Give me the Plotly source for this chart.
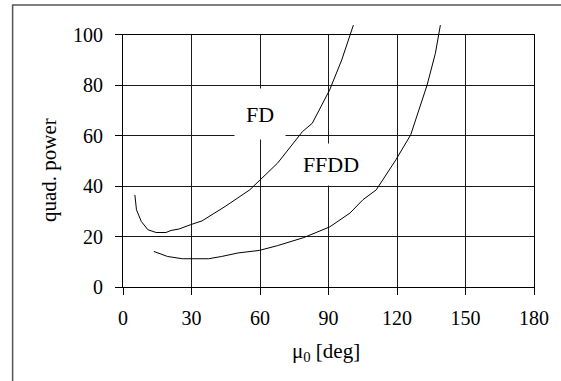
import plotly.graph_objects as go

# Data
fd_x = [5.2, 5.9, 8.0, 10.9, 14.5, 18.8, 21.0, 24.6, 29.6, 34.6, 44.7, 55.5, 67.7, 78.6, 82.9, 90.5, 95.8, 100.9]
fd_y = [36.5, 30.6, 26.0, 22.7, 21.6, 21.6, 22.4, 23.0, 24.7, 26.2, 31.9, 38.5, 49.1, 61.6, 64.9, 78.1, 90.0, 103.8]
ffdd_x = [13.5, 19.5, 26.0, 37.5, 43.2, 50.4, 59.7, 67.7, 79.2, 90.5, 99.4, 105.1, 110.9, 119.5, 126.0, 133.2, 136.8, 139.0]
ffdd_y = [14.1, 12.1, 11.2, 11.2, 12.1, 13.5, 14.5, 16.4, 19.6, 23.8, 29.3, 34.6, 38.5, 50.4, 60.3, 80.1, 92.6, 103.8]
x_ticks = [0, 30, 60, 90, 120, 150, 180]
y_ticks = [0, 20, 40, 60, 80, 100]

FONT = "Liberation Serif"
W, H = 561, 381
ML, MR, MT, MB = 123, 21, 25, 94
PW, PH = W - ML - MR, H - MT - MB
Y0PX = H - MB
YTOP_MAIN = 252.3 / PH  # domain top for the 0..100 axis


def px_x(p):
    return (p - ML) / PW


def px_y(p):
    return (Y0PX - p) / PH


fig = go.Figure()
for xs, ys in [(fd_x, fd_y), (ffdd_x, ffdd_y)]:
    fig.add_trace(go.Scatter(x=xs, y=ys, mode="lines", xaxis="x2", yaxis="y2",
                             line=dict(color="black", width=1), showlegend=False,
                             hoverinfo="skip"))

axis_common = dict(showline=True, linecolor="black", linewidth=1, mirror=True,
                   showgrid=True, gridcolor="#1a1a1a", gridwidth=1, zeroline=False,
                   ticks="outside", ticklen=7, tickcolor="black", tickwidth=1,
                   tickfont=dict(family=FONT, size=20, color="black"))

fig.update_layout(
    width=W, height=H,
    margin=dict(l=ML, r=MR, t=MT, b=MB),
    paper_bgcolor="white", plot_bgcolor="rgba(0,0,0,0)",
    xaxis=dict(range=[0, 180], tickvals=x_ticks, domain=[0, 1], anchor="y",
               ticklabelstandoff=6, **axis_common),
    yaxis=dict(range=[0, 100], tickvals=y_ticks, domain=[0, YTOP_MAIN], anchor="x",
               ticklabelstandoff=8, **axis_common),
    xaxis2=dict(range=[0, 180], domain=[0, 1], anchor="y2", visible=False),
    yaxis2=dict(range=[0, 100 * PH / 252.3], domain=[0, 1], anchor="x2", visible=False),
    font=dict(family=FONT, color="black"),
)

fig.add_annotation(x=60, y=68.5, xref="x", yref="y", text="FD", showarrow=False,
                   font=dict(family=FONT, size=22, color="black"),
                   bgcolor="white", width=50, height=50, borderpad=0)
fig.add_annotation(x=90.9, y=48.7, xref="x", yref="y", text="FFDD", showarrow=False,
                   font=dict(family=FONT, size=22, color="black"),
                   bgcolor="white", width=66, height=41, borderpad=0)

fig.add_annotation(x=px_x(48), y=px_y(170), xref="paper", yref="paper",
                   xanchor="center", yanchor="middle",
                   text="quad. power", textangle=-90, showarrow=False,
                   font=dict(family=FONT, size=21, color="black"))
fig.add_annotation(x=px_x(329), y=px_y(352), xref="paper", yref="paper",
                   xanchor="center", yanchor="middle",
                   text="μ<sub>0</sub> [deg]", showarrow=False,
                   font=dict(family=FONT, size=21, color="black"))

fig.add_shape(type="rect", xref="paper", yref="paper",
              x0=px_x(11), x1=px_x(640), y0=px_y(460), y1=px_y(5),
              line=dict(color="#555555", width=1.5), fillcolor="rgba(0,0,0,0)")

fig.write_html("out.html")
